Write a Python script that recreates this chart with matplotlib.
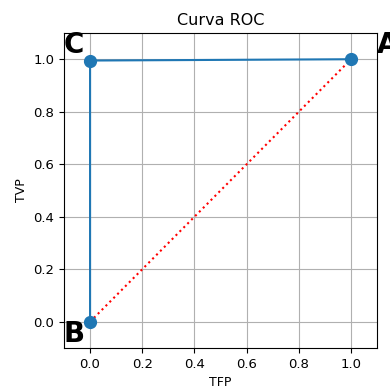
import numpy as np
from matplotlib import pyplot as plt

# ROC points
tfp = [0.0, 0.0, 1.0]
tvp = [0.0, 0.995, 1.0]
diag = [0.0, 1.0]
letras = ["B", "C", "A"]
pos_letras = [(-0.1, -0.1), (-0.1, 1.0), (1.1, 1.0)]

fig = plt.figure(figsize=(3.9, 3.88), dpi=100)
ax = fig.add_axes([0.164, 0.103, 0.803, 0.812])
ax.plot(diag, diag, ':', color='red')
ax.plot(tfp, tvp, '-o', color='tab:blue', markersize=8.5)
for l, (x, y) in zip(letras, pos_letras):
    ax.text(x, y, l, fontsize=20, fontweight='bold', ha='left', va='bottom')
ax.set_xlim(-0.1, 1.1)
ax.set_ylim(-0.1, 1.1)
ax.set_xticks(np.arange(0, 1.01, 0.2))
ax.set_yticks(np.arange(0, 1.01, 0.2))
ax.grid(True)
ax.set_title("Curva ROC", fontsize=11.5)
ax.set_xlabel("TFP", fontsize=9)
ax.set_ylabel("TVP", fontsize=9)
ax.tick_params(labelsize=9.5)
fig.savefig("out.png")
